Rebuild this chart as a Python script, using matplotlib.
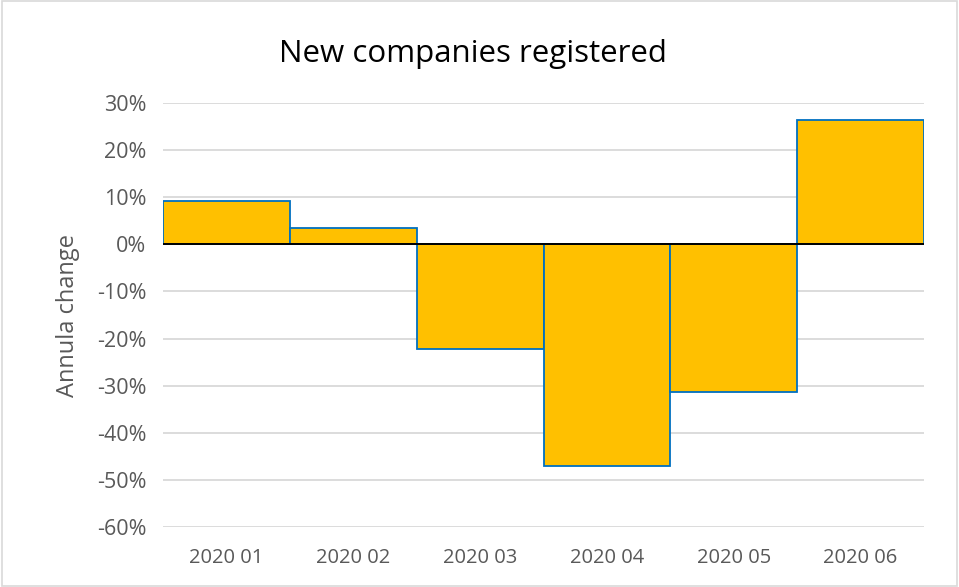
import matplotlib
matplotlib.use("Agg")
import matplotlib.pyplot as plt
from matplotlib.patches import Rectangle
from matplotlib.ticker import FuncFormatter, MultipleLocator

# Annual change in newly registered companies, by month
months = ["2020 01", "2020 02", "2020 03", "2020 04", "2020 05", "2020 06"]
annual_change = [9.2, 3.4, -22.2, -47.0, -31.4, 26.4]

plt.rcParams["font.family"] = ["Open Sans", "DejaVu Sans"]

fig = plt.figure(figsize=(9.59, 5.87), dpi=100)
fig.patch.set_facecolor("white")
ax = fig.add_axes([0.170, 0.1027, 0.7935, 0.7213])

x = range(len(months))
ax.bar(x, annual_change, width=1.0, color="#FFC000", edgecolor="#0070C0",
       linewidth=1.3, zorder=3)
ax.axhline(0, color="black", linewidth=1.4, zorder=4)

ax.set_xlim(-0.5, len(months) - 0.5)
ax.set_ylim(-60, 30)
ax.yaxis.set_major_locator(MultipleLocator(10))
ax.yaxis.set_major_formatter(FuncFormatter(lambda v, _: f"{v:.0f}%"))
ax.set_xticks(list(x))
ax.set_xticklabels(months)

ax.grid(axis="y", color="#D9D9D9", linewidth=1.3, zorder=0)
ax.set_axisbelow(True)
for s in ax.spines.values():
    s.set_visible(False)
ax.tick_params(axis="both", length=0, colors="#595959")
ax.tick_params(axis="y", pad=12, labelsize=15.5)
ax.tick_params(axis="x", pad=15, labelsize=14.5)

ax.set_ylabel("Annula change", color="#595959", fontsize=17, labelpad=12)
fig.text(0.493, 0.908, "New companies registered", ha="center", va="center",
         fontsize=22.5, color="black")

# light chart-area frame
fig.patches.append(Rectangle((0.002, 0.002), 0.996, 0.996, transform=fig.transFigure,
                             fill=False, edgecolor="#D9D9D9", linewidth=1.2))

fig.savefig("out.png", dpi=100)
